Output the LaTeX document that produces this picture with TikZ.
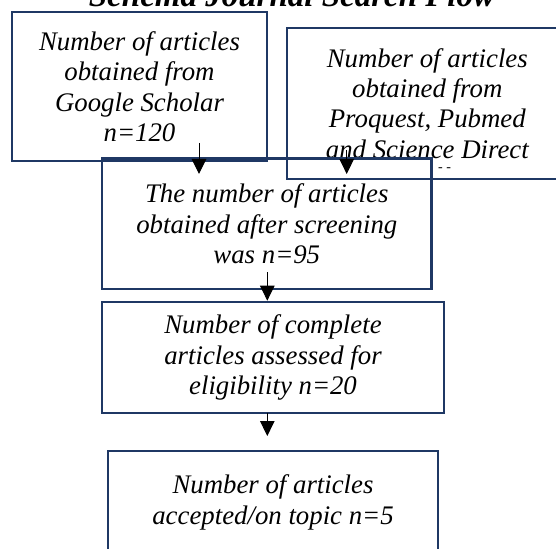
\documentclass[tikz,border=0pt]{standalone}
\usepackage{fontspec}
\setmainfont{Liberation Serif}
\usetikzlibrary{arrows.meta}
\definecolor{boxblue}{RGB}{31,56,100}
\tikzset{
  flowbox/.style={draw=boxblue, line width=2.2pt, rectangle, inner sep=0pt,
    align=center, font=\fontsize{26.8}{30.4}\selectfont\itshape},
  flowarrow/.style={line width=1pt, -{Triangle[width=14.5pt,length=15pt]}}
}
\begin{document}
\begin{tikzpicture}[x=1pt,y=1pt,yscale=-1,xscale=1]
        \useasboundingbox (0,0) rectangle (556,548);
        \clip (0,0) rectangle (556,548);

        % Title
        \node (title) at (292,7) [anchor=base, font=\fontsize{33}{36}\selectfont\bfseries\itshape] {Schema Journal Search Flow};

        % Boxes
        \node (scholar) at (139.5,86.8) [flowbox, minimum width=254.4, minimum height=149] {Number of articles\\obtained from\\Google Scholar\\n=120};
        \node (proquest) at (427.3,103.5) [flowbox, minimum width=281.3, minimum height=150.4] {Number of articles\\obtained from\\Proquest, Pubmed\\and Science Direct};
        \node (screened) at (266.8,223.8) [flowbox, minimum width=329.5, minimum height=130.5] {The number of articles\\obtained after screening\\was n=95};
        \node (eligible) at (273,357.5) [flowbox, minimum width=342.6, minimum height=110.4] {Number of complete\\articles assessed for\\eligibility n=20};
        \node (accepted) at (273,502.4) [flowbox, minimum width=329.4, minimum height=103.4] {Number of articles\\accepted/on topic n=5};

        % Text Node
        \node (dashes) at (444.5,170) [inner sep=0pt, font=\fontsize{14}{16}\selectfont] {- -};

        % Arrow ends
        \coordinate (scholarout) at (199,143);
        \coordinate (scholarin) at (199,174);
        \coordinate (proquestout) at (346.7,150);
        \coordinate (proquestin) at (346.7,174);
        \coordinate (screenedout) at (267.3,272);
        \coordinate (eligiblein) at (267.3,300.7);
        \coordinate (eligibleout) at (267.3,412.7);
        \coordinate (acceptedin) at (267.3,436);

        % Straight Lines
        \draw [flowarrow] (scholarout) -- (scholarin);
        \draw [flowarrow] (proquestout) -- (proquestin);
        \draw [flowarrow] (screenedout) -- (eligiblein);
        \draw [flowarrow] (eligibleout) -- (acceptedin);
\end{tikzpicture}
\end{document}
